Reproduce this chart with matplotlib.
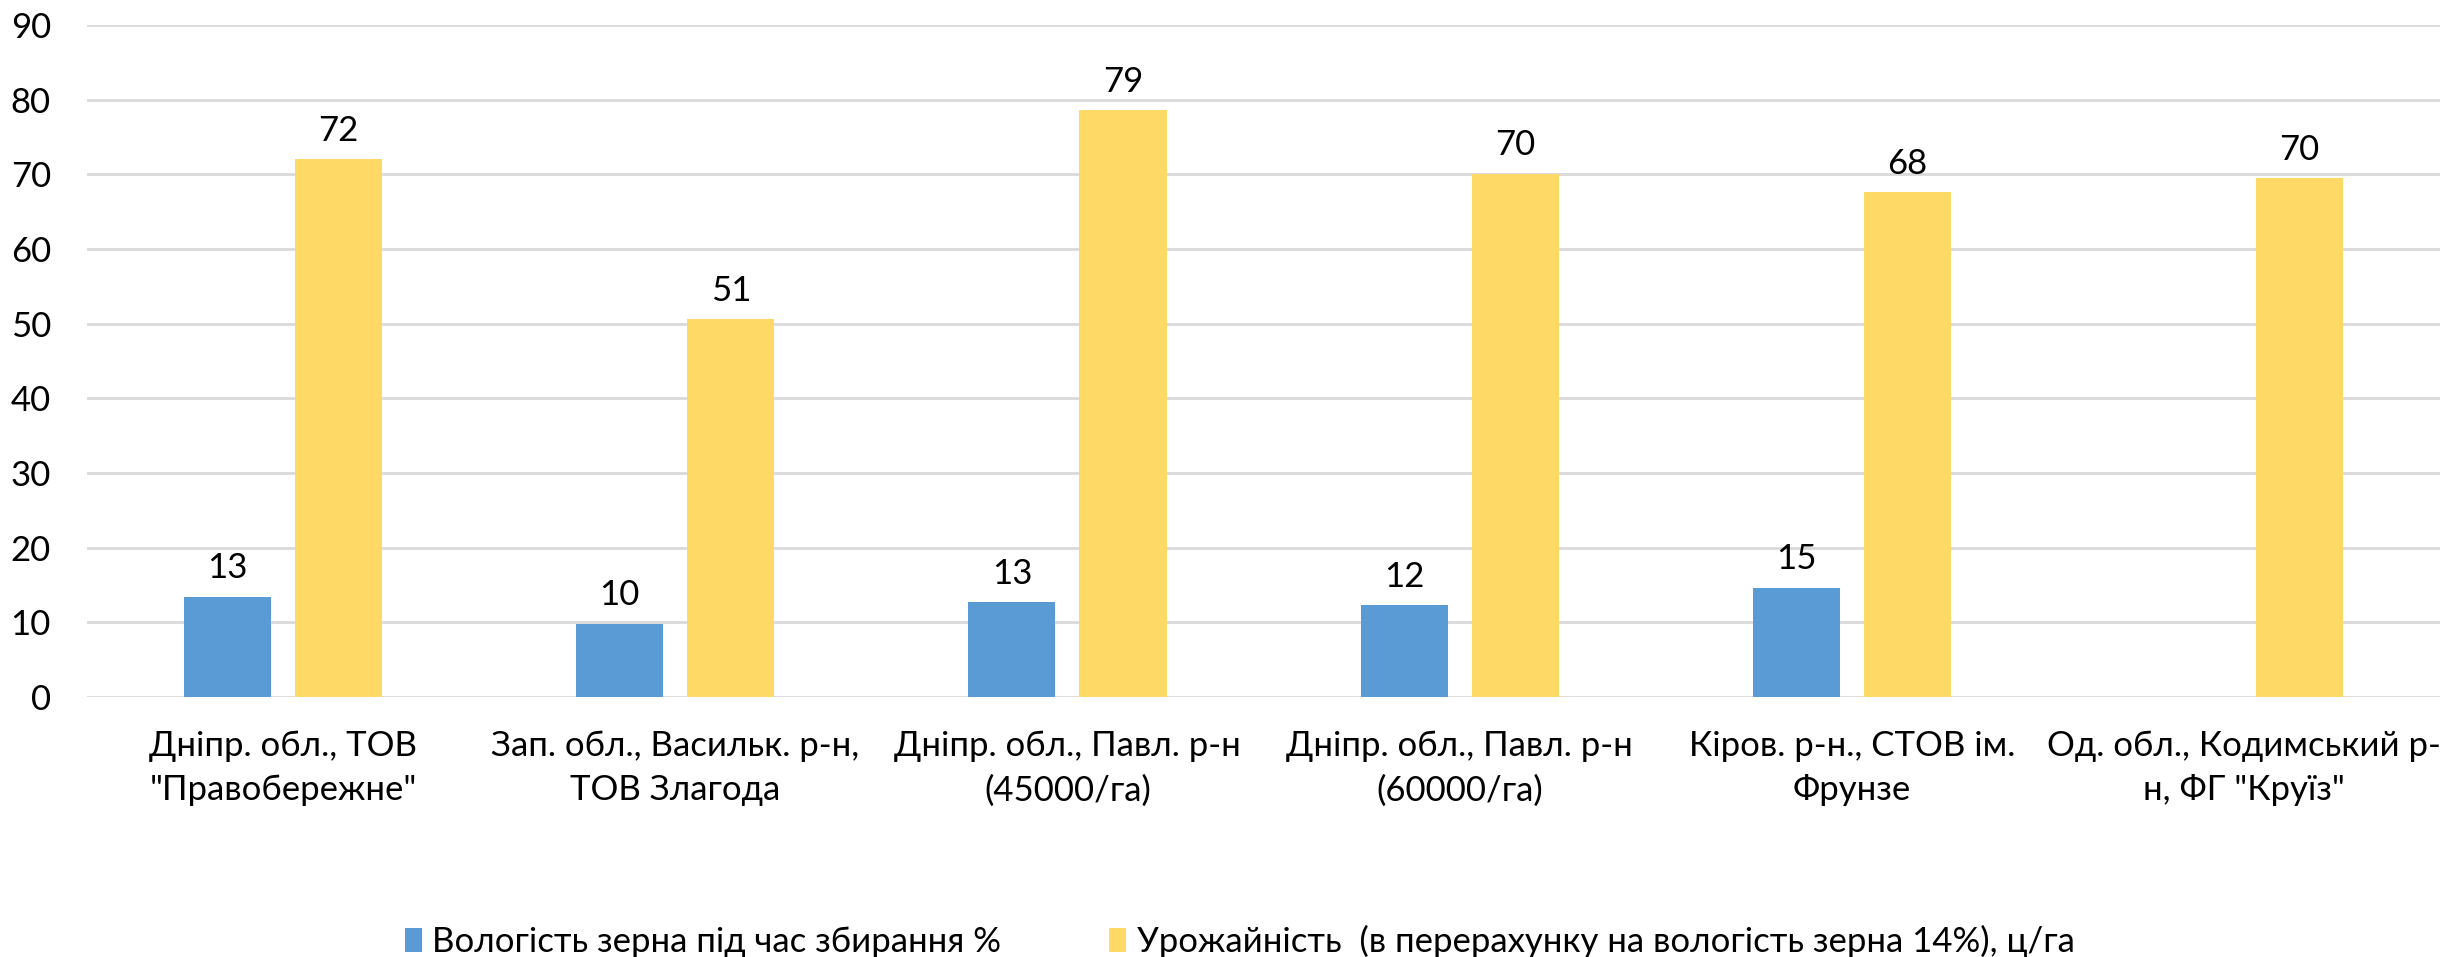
import numpy as np
import matplotlib
matplotlib.use('Agg')
import matplotlib.pyplot as plt

plt.rcParams['font.family'] = ['Lato', 'Noto Sans', 'DejaVu Sans']

# категорії (господарства)
categories = [
    'Дніпр. обл., ТОВ\n"Правобережне"',
    'Зап. обл., Васильк. р-н,\nТОВ Злагода',
    'Дніпр. обл., Павл. р-н\n(45000/га)',
    'Дніпр. обл., Павл. р-н\n(60000/га)',
    'Кіров. р-н., СТОВ ім.\nФрунзе',
    'Од. обл., Кодимський р-\nн, ФГ "Круїз"',
]
moisture = [13.4, 9.8, 12.7, 12.3, 14.6, np.nan]
yield_cha = [72.0, 50.6, 78.6, 70.1, 67.6, 69.5]
series_names = ['Вологість зерна під час збирання %',
                'Урожайність  (в перерахунку на вологість зерна 14%), ц/га']
colors = ['#5B9BD5', '#FFD966']

fig = plt.figure(figsize=(24.45, 9.57), dpi=100)
ax = fig.add_axes([0.0356, 0.2717, 0.9624, 0.7022])

x = np.arange(len(categories))
w = 0.222
off = 0.1416
b1 = ax.bar(x - off, moisture, w, color=colors[0], label=series_names[0])
b2 = ax.bar(x + off, yield_cha, w, color=colors[1], label=series_names[1])

for bars, vals in ((b1, moisture), (b2, yield_cha)):
    for rect, v in zip(bars, vals):
        if np.isnan(v):
            continue
        ax.annotate('{:.0f}'.format(v), (rect.get_x() + rect.get_width() / 2, v),
                    xytext=(0, 9), textcoords='offset points',
                    ha='center', va='bottom', fontsize=25)

ax.set_xlim(-0.5, len(categories) - 0.5)
ax.set_ylim(0, 90)
ax.set_yticks(range(0, 91, 10))
ax.set_xticks(x)
ax.set_xticklabels(categories, fontsize=25, linespacing=1.45)
ax.tick_params(axis='y', labelsize=25, length=0, pad=26)
ax.tick_params(axis='x', length=0, pad=24)
ax.grid(axis='y', color='#D9D9D9', linewidth=2)
ax.set_axisbelow(True)
for s in ax.spines.values():
    s.set_visible(False)

fig.legend(loc='lower center', bbox_to_anchor=(0.507, -0.034), ncol=2, frameon=False,
           fontsize=25, handlelength=0.5, handleheight=0.7, handletextpad=0.3,
           columnspacing=3.1)

fig.savefig('out.png', dpi=100)
